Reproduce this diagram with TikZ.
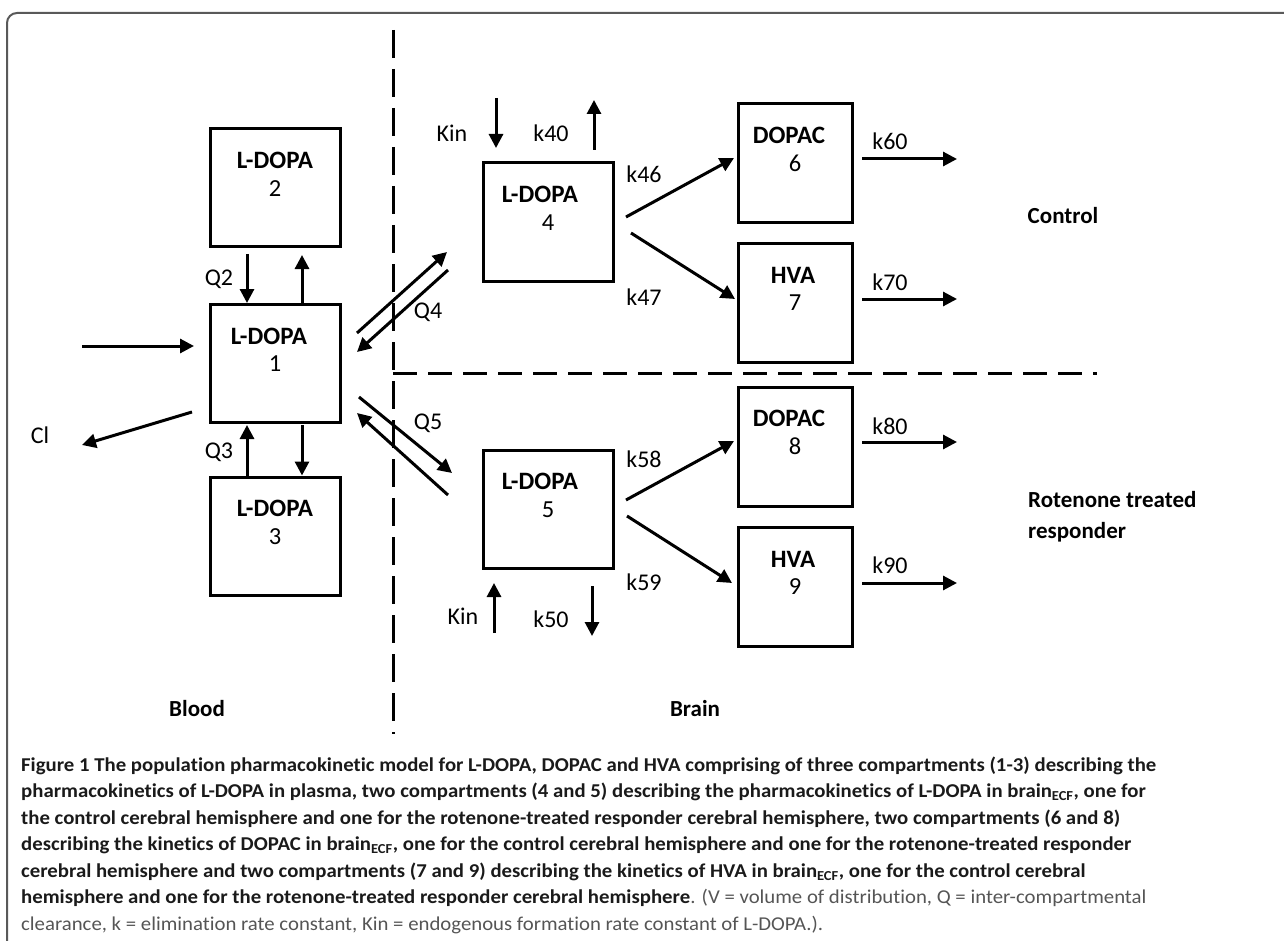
\documentclass[tikz,border=0pt]{standalone}
\usepackage{fontspec}
\setmainfont{Carlito}
\newfontfamily\capfont[FakeStretch=1.06,RawFeature=-liga]{Carlito}
\usetikzlibrary{arrows.meta,calc}
\definecolor{capbold}{HTML}{1A1A1A}
\definecolor{capreg}{HTML}{555555}
\begin{document}
\begin{tikzpicture}[x=1pt,y=-1pt,
  box/.style={draw,line width=3pt,minimum width=130pt,minimum height=118pt,inner sep=0pt},
  sbox/.style={draw,line width=3pt,minimum width=114pt,minimum height=119pt,inner sep=0pt},
  ttl/.style={font=\fontsize{25}{28}\selectfont\bfseries,inner sep=0pt},
  num/.style={font=\fontsize{24.5}{28}\selectfont,inner sep=0pt},
  lbl/.style={font=\fontsize{24}{28}\selectfont,inner sep=0pt},
  grp/.style={font=\fontsize{23}{31}\selectfont\bfseries,inner sep=0pt},
  arr/.style={line width=3pt,-{Triangle[length=14pt,width=14pt]}},
  captxt/.style={anchor=base west,inner sep=0pt,font=\capfont\fontsize{19.6}{22}\selectfont},
  frm/.style={draw=gray!70!black,line width=2pt,rounded corners=10pt}
]
\useasboundingbox (0,0) rectangle (1284,941);
% frame
\draw[frm] (7,13) rectangle (1310,950);

% dividers
\coordinate (vtop) at (393,30);
\coordinate (vbot) at (393,734);
\coordinate (hl) at (393,373);
\coordinate (hr) at (1097,373);
\draw[line width=3pt,dash pattern=on 28pt off 11pt] (vtop) -- (vbot);
\draw[line width=3pt,dash pattern=on 24pt off 11pt] (hl) -- (hr);

% boxes
\node[box] (b2) at (275,188) {};
\node[box] (b1) at (275,363.5) {};
\node[box] (b3) at (275,536) {};
\node[box] (b4) at (548,222) {};
\node[box] (b5) at (548,509) {};
\node[sbox] (b6) at (795,163.5) {};
\node[sbox] (b7) at (795,303) {};
\node[sbox] (b8) at (795,446.5) {};
\node[sbox] (b9) at (795,587) {};

% box texts
\foreach \b/\t/\n/\dx in {b2/L-DOPA/2/0,b1/L-DOPA/1/-6,b3/L-DOPA/3/0,b4/L-DOPA/4/-8,b5/L-DOPA/5/-8,b6/DOPAC/6/-6,b7/HVA/7/-2,b8/DOPAC/8/-6,b9/HVA/9/-2}{
  \node[ttl] (\b t) at ($(\b.north)+(\dx,33)$) {\t};
  \node[num] (\b n) at ($(\b.north)+(0,61)$) {\n};
}

% arrow endpoints
\coordinate (in0) at (82,346);   \coordinate (in1) at (194,346);
\coordinate (cl0) at (192,412);  \coordinate (cl1) at (82,445);
\coordinate (q2a) at (247,254);  \coordinate (q2b) at ($(b1.north)+(-28,0)$);
\coordinate (u1a) at ($(b1.north)+(27,0)$); \coordinate (u1b) at (302,255);
\coordinate (q3a) at ($(b3.north)+(-28,0)$); \coordinate (q3b) at (247,425);
\coordinate (d1a) at (302,425);  \coordinate (d1b) at ($(b3.north)+(27,0)$);
\coordinate (q4a) at (357,333);  \coordinate (q4b) at (447,252);
\coordinate (q4c) at (448,270);  \coordinate (q4d) at (357,352);
\coordinate (q5a) at (359,397);  \coordinate (q5b) at (452,473);
\coordinate (q5c) at (448,495);  \coordinate (q5d) at (357,413);
\coordinate (kt0) at (496,98);   \coordinate (kt1) at (496,148);
\coordinate (k40a) at (594,150); \coordinate (k40b) at (594,100);
\coordinate (k46a) at (626,217); \coordinate (k46b) at (734,158);
\coordinate (k47a) at (631,233); \coordinate (k47b) at (735,299);
\coordinate (k58a) at (626,500); \coordinate (k58b) at (734,441);
\coordinate (k59a) at (627,516); \coordinate (k59b) at (732,583);
\coordinate (kb0) at (494,633);  \coordinate (kb1) at (494,583);
\coordinate (k50a) at (592,586); \coordinate (k50b) at (592,636);
\coordinate (k60a) at (862,159); \coordinate (k60b) at (957,159);
\coordinate (k70a) at (862,299); \coordinate (k70b) at (957,299);
\coordinate (k80a) at (862,442); \coordinate (k80b) at (957,442);
\coordinate (k90a) at (862,583); \coordinate (k90b) at (957,583);

\foreach \a/\b in {in0/in1,cl0/cl1,q2a/q2b,u1a/u1b,q3a/q3b,d1a/d1b,q4a/q4b,q4c/q4d,q5a/q5b,q5c/q5d,kt0/kt1,k40a/k40b,k46a/k46b,k47a/k47b,k58a/k58b,k59a/k59b,kb0/kb1,k50a/k50b,k60a/k60b,k70a/k70b,k80a/k80b,k90a/k90b}
  \draw[arr] (\a) -- (\b);

% labels
\node[lbl] (lq2) at (219,279) {Q2};
\node[lbl] (lq3) at (219,452) {Q3};
\node[lbl] (lcl) at (40,435) {Cl};
\node[lbl] (lq4) at (428,312) {Q4};
\node[lbl] (lq5) at (428,423) {Q5};
\node[lbl] (lkt) at (452,133) {Kin};
\node[lbl] (lk40) at (551,133) {k40};
\node[lbl] (lk46) at (644,174) {k46};
\node[lbl] (lk47) at (644,297) {k47};
\node[lbl] (lk58) at (644,459) {k58};
\node[lbl] (lk59) at (644,582) {k59};
\node[lbl] (lkb) at (463,616) {Kin};
\node[lbl] (lk50) at (551,619) {k50};
\node[lbl] (lk60) at (890,141) {k60};
\node[lbl] (lk70) at (890,282) {k70};
\node[lbl] (lk80) at (890,426) {k80};
\node[lbl] (lk90) at (890,565) {k90};

\node[grp] (gctl) at (1063,216) {Control};
\node[grp,anchor=base west] (grot) at (1028,507) {Rotenone treated};
\node[grp,anchor=base west] (gresp) at (1028,538) {responder};
\node[grp] (gblood) at (197,709) {Blood};
\node[grp] (gbrain) at (695,709) {Brain};

% caption
\node[captxt,text=capbold] (c1) at (21,771) {\bfseries Figure 1 The population pharmacokinetic model for L-DOPA, DOPAC and HVA comprising of three compartments (1-3) describing the};
\node[captxt,text=capbold] (c2) at (21,797.5) {\bfseries pharmacokinetics of L-DOPA in plasma, two compartments (4 and 5) describing the pharmacokinetics of L-DOPA in brain\textsubscript{ECF}, one for};
\node[captxt,text=capbold] (c3) at (21,824) {\bfseries the control cerebral hemisphere and one for the rotenone-treated responder cerebral hemisphere, two compartments (6 and 8)};
\node[captxt,text=capbold] (c4) at (21,850.5) {\bfseries describing the kinetics of DOPAC in brain\textsubscript{ECF}, one for the control cerebral hemisphere and one for the rotenone-treated responder};
\node[captxt,text=capbold] (c5) at (21,877) {\bfseries cerebral hemisphere and two compartments (7 and 9) describing the kinetics of HVA in brain\textsubscript{ECF}, one for the control cerebral};
\node[captxt,text=capbold] (c6) at (21,903.5) {\bfseries hemisphere and one for the rotenone-treated responder cerebral hemisphere\mdseries\color{capreg}. (V = volume of distribution, Q = inter-compartmental};
\node[captxt,text=capreg] (c7) at (21,930) {clearance, k = elimination rate constant, Kin = endogenous formation rate constant of L-DOPA.).};
\end{tikzpicture}
\end{document}
